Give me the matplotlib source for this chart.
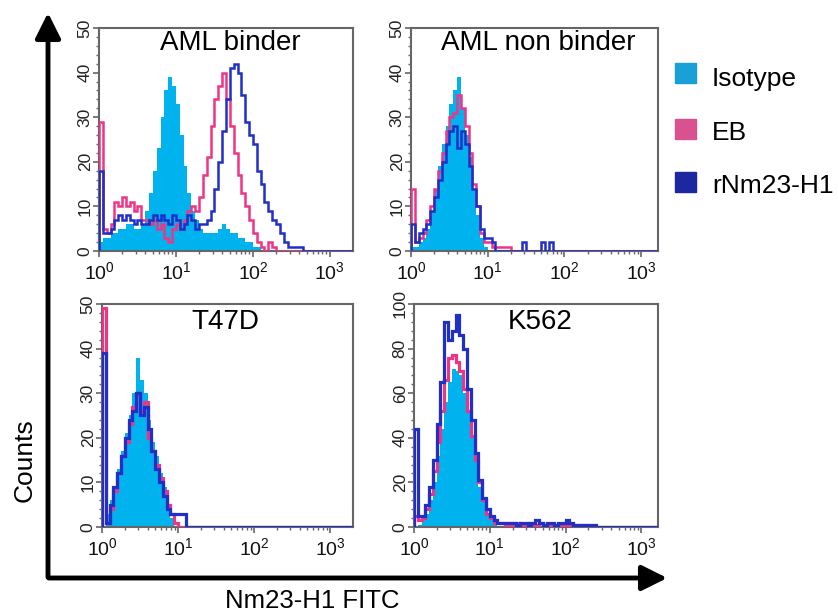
import matplotlib
matplotlib.use('Agg')
import matplotlib.pyplot as plt
import numpy as np
from matplotlib.patches import Rectangle, FancyArrowPatch
from matplotlib.ticker import AutoMinorLocator, LogLocator, NullFormatter

plt.rcParams['font.family'] = ['Liberation Sans', 'DejaVu Sans']

# histogram counts, one value per log bin of width 0.05 decade starting at 10^0
step = 0.05
n_bins = 66

# AML binder
iso_tl = [2, 3, 3, 4, 4, 5, 5, 6, 6, 5, 5, 6, 9, 13, 18, 23, 30, 36, 39, 37, 33,
          26, 19, 13, 9, 7, 5, 4, 4, 4, 4, 5, 6, 5, 4, 4, 3, 3, 2, 2, 1, 1, 0]
eb_tl = [29, 5, 4, 6, 11, 10, 12, 10, 11, 9, 10, 7, 7, 6, 7, 5, 6, 3, 2, 5, 6, 5,
         7, 9, 10, 9, 12, 17, 21, 28, 34, 37, 40, 34, 28, 22, 17, 13, 10, 7, 4, 2,
         1, 0, 2, 1, 0]
rnm_tl = [18, 4, 4, 5, 7, 8, 7, 8, 7, 6, 7, 6, 6, 7, 8, 7, 8, 7, 6, 8, 7, 5, 6, 8,
          7, 5, 6, 6, 7, 9, 14, 20, 27, 34, 41, 42, 40, 35, 29, 26, 24, 18, 15, 11,
          9, 7, 6, 4, 2, 1, 1, 1, 1, 0]

# AML non binder
iso_tr = [1, 1, 2, 3, 5, 9, 14, 19, 24, 28, 33, 36, 39, 32, 26, 21, 14, 8, 3, 1, 0]
eb_tr = [14, 2, 3, 4, 7, 10, 14, 18, 22, 27, 30, 31, 35, 32, 28, 22, 15, 10, 4, 2,
         2, 1, 1, 1, 1, 1, 0]
rnm_tr = [6, 2, 4, 5, 6, 9, 12, 16, 20, 24, 27, 28, 23, 27, 24, 19, 14, 10, 5, 3,
          3, 2, 0, 0, 0, 0, 0, 0, 0, 2, 0, 0, 0, 0, 2, 0, 2, 0]

# T47D
iso_bl = [0, 3, 6, 9, 13, 17, 21, 25, 30, 38, 33, 30, 24, 19, 16, 12, 9, 5, 2, 0]
eb_bl = [49, 1, 4, 8, 12, 16, 19, 23, 27, 30, 26, 28, 20, 17, 14, 11, 8, 5, 3, 1, 0]
rnm_bl = [39, 1, 5, 9, 12, 16, 20, 24, 26, 30, 25, 27, 22, 17, 13, 10, 7, 4, 3, 3,
          3, 3, 0]

# K562
iso_br = [0, 1, 3, 6, 12, 20, 32, 44, 56, 65, 71, 70, 68, 60, 52, 40, 29, 18, 11,
          6, 3, 1, 0]
eb_br = [5, 3, 4, 8, 15, 25, 38, 52, 66, 76, 77, 74, 70, 62, 52, 41, 30, 20, 12, 6,
         4, 2, 2, 2, 1, 2, 1, 2, 1, 1, 2, 1, 1, 2, 1, 1, 1, 1, 1, 1, 1, 1, 1, 1, 1,
         1, 0]
rnm_br = [44, 5, 5, 10, 18, 30, 46, 65, 92, 84, 88, 95, 86, 80, 62, 48, 33, 21, 13,
          8, 5, 3, 2, 2, 2, 2, 2, 1, 2, 2, 1, 2, 3, 2, 1, 2, 2, 1, 2, 2, 3, 2, 1, 1,
          1, 1, 1, 1, 0]

titles = ['AML binder', 'AML non binder', 'T47D', 'K562']
legend_labels = ['Isotype', 'EB', 'rNm23-H1']

iso_color = '#00b2ee'
eb_color = '#ee3585'
rnm_color = '#1f2fc8'
legend_colors = ['#1a9fd6', '#d9528f', '#1b28a0']
frame_color = '#666666'

edges = 10 ** (step * np.arange(n_bins + 1))


def pad(vals):
    return np.concatenate([vals, np.zeros(n_bins - len(vals))])


fig = plt.figure(figsize=(8.38, 6.15), dpi=100)

panels = [
    ([0.1181, 0.5919, 0.3031, 0.3626], iso_tl, eb_tl, rnm_tl, 50, 10, 3.30, 1.8, (0.516, 0.933)),
    ([0.4905, 0.5919, 0.2948, 0.3626], iso_tr, eb_tr, rnm_tr, 50, 10, 3.22, 1.8, (0.514, 0.933)),
    ([0.1217, 0.1431, 0.2995, 0.3626], iso_bl, eb_bl, rnm_bl, 50, 10, 3.30, 2.3, (0.49, 0.919)),
    ([0.4940, 0.1431, 0.2912, 0.3626], iso_br, eb_br, rnm_br, 100, 20, 3.22, 2.3, (0.516, 0.919)),
]

for i, (rect, iso, eb, rnm, ymax, ystep, xmax, lw, tpos) in enumerate(panels):
    ax = fig.add_axes(rect)
    ax.stairs(pad(iso), edges, fill=True, color=iso_color, zorder=2)
    ax.stairs(pad(eb), edges, color=eb_color, lw=lw, zorder=3)
    ax.stairs(pad(rnm), edges, color=rnm_color, lw=lw, zorder=4)
    ax.set_xscale('log')
    ax.set_xlim(1, 10 ** xmax)
    ax.set_ylim(0, ymax)
    ax.set_xticks([1, 10, 100, 1000])
    ax.xaxis.set_minor_locator(LogLocator(base=10, subs=np.arange(2, 10)))
    ax.xaxis.set_minor_formatter(NullFormatter())
    ax.set_yticks(np.arange(0, ymax + 1, ystep))
    ax.yaxis.set_minor_locator(AutoMinorLocator(5))
    for s in ax.spines.values():
        s.set_color(frame_color)
        s.set_linewidth(1.5)
    ax.tick_params(axis='both', which='major', direction='out', length=4, width=1.2,
                   color=frame_color)
    ax.tick_params(axis='both', which='minor', direction='out', length=2.5, width=1,
                   color=frame_color)
    ax.tick_params(axis='x', labelsize=14, pad=3, labelcolor='#111111')
    ax.tick_params(axis='y', labelsize=12.5, pad=0.5, labelcolor='#222222')
    for lab in ax.get_yticklabels():
        lab.set_rotation(90)
        lab.set_va('center')
    ax.text(tpos[0], tpos[1], titles[i], transform=ax.transAxes, ha='center',
            va='center', fontsize=20, zorder=5)

# big axis arrows
fig.add_artist(FancyArrowPatch((48 / 838, 1 - 580 / 615), (48 / 838, 1 - 10 / 615),
                               transform=fig.transFigure,
                               arrowstyle='-|>,head_length=0.7,head_width=0.35',
                               mutation_scale=22, lw=3.5, color='black'))
fig.add_artist(FancyArrowPatch((46 / 838, 1 - 578 / 615), (670 / 838, 1 - 578 / 615),
                               transform=fig.transFigure,
                               arrowstyle='-|>,head_length=0.7,head_width=0.35',
                               mutation_scale=22, lw=3.5, color='black'))

fig.text(25 / 838, 1 - 460 / 615, 'Counts', rotation=90, ha='center', va='center',
         fontsize=19)
fig.text(312 / 838, 2 / 615, 'Nm23-H1 FITC', ha='center', va='bottom',
         fontsize=18.5)

# legend
square_bottoms = [0.865, 0.774, 0.688]
text_baselines = [0.860, 0.772, 0.686]
for lab, col, yb, yt in zip(legend_labels, legend_colors, square_bottoms, text_baselines):
    fig.add_artist(Rectangle((675 / 838, yb), 21 / 838, 20 / 615, color=col,
                             transform=fig.transFigure))
    fig.text(712 / 838, yt, lab, ha='left', va='baseline', fontsize=19)

fig.savefig('out.png', dpi=100)
